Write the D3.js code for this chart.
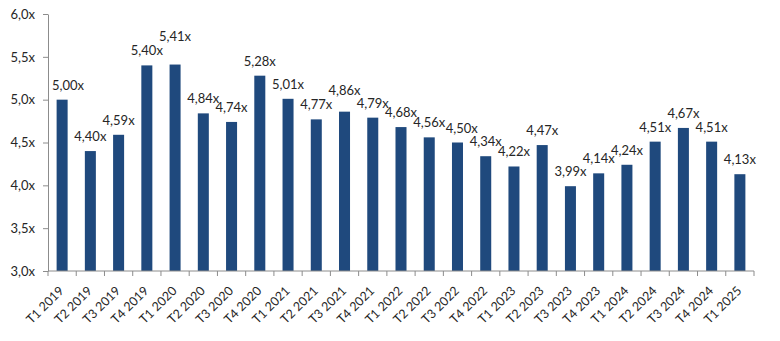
<!DOCTYPE html>
<html>
<head>
<meta charset="utf-8">
<script src="https://cdn.jsdelivr.net/npm/d3@7"></script>
<style>
  html, body { margin: 0; padding: 0; background: #ffffff; }
  svg { display: block; }
  text { font-family: Lato, "Open Sans", sans-serif; fill: #262626; }
</style>
</head>
<body>
<svg id="chart" width="780" height="341"></svg>
<script>
const categories = ["T1 2019","T2 2019","T3 2019","T4 2019","T1 2020","T2 2020","T3 2020","T4 2020",
  "T1 2021","T2 2021","T3 2021","T4 2021","T1 2022","T2 2022","T3 2022","T4 2022",
  "T1 2023","T2 2023","T3 2023","T4 2023","T1 2024","T2 2024","T3 2024","T4 2024","T1 2025"];
const values = [5.00,4.40,4.59,5.40,5.41,4.84,4.74,5.28,5.01,4.77,4.86,4.79,4.68,4.56,4.50,4.34,
  4.22,4.47,3.99,4.14,4.24,4.51,4.67,4.51,4.13];
const yTicks = [3.0,3.5,4.0,4.5,5.0,5.5,6.0];
const yTickLabels = ["3,0x","3,5x","4,0x","4,5x","5,0x","5,5x","6,0x"];

const fmtLabel = v => v.toFixed(2).replace(".", ",") + "x";

const margin = {left: 48, right: 26, top: 14, bottom: 70};
const W = 780, H = 341;
const svg = d3.select("#chart");

const x = d3.scaleBand().domain(categories)
  .range([margin.left, W - margin.right])
  .paddingInner(0.61).paddingOuter(0.305);
const y = d3.scaleLinear().domain([3, 6]).range([H - margin.bottom, margin.top]);

const axisColor = "#8c8c8c";
const barColor = "#1f497d";

// Bars
svg.append("g").selectAll("rect").data(values).join("rect")
  .attr("x", (d, i) => x(categories[i]))
  .attr("y", d => y(d))
  .attr("width", x.bandwidth())
  .attr("height", d => y(3) - y(d))
  .attr("fill", barColor);

// Y axis
const yAxis = svg.append("g")
  .attr("transform", `translate(${margin.left},0)`)
  .call(d3.axisLeft(y).tickValues(yTicks).tickFormat((d, i) => yTickLabels[i])
    .tickSize(5).tickSizeOuter(0).tickPadding(8));
yAxis.selectAll("path, line").attr("stroke", axisColor);
yAxis.selectAll("text").style("font-size", "13px").style("font-family", "Lato, sans-serif").attr("fill", "#262626");

// X axis: baseline + ticks at band boundaries
const step = x.step();
const xg = svg.append("g");
xg.append("line")
  .attr("x1", margin.left).attr("x2", W - margin.right)
  .attr("y1", y(3)).attr("y2", y(3))
  .attr("stroke", axisColor);
const boundaries = categories.map(c => x(c) + x.bandwidth() / 2 - step / 2)
  .concat([x(categories[categories.length - 1]) + x.bandwidth() / 2 + step / 2]);
xg.selectAll("line.tick").data(boundaries).join("line")
  .attr("class", "tick")
  .attr("x1", d => d).attr("x2", d => d)
  .attr("y1", y(3)).attr("y2", y(3) + 5)
  .attr("stroke", axisColor);
xg.selectAll("text").data(categories).join("text")
  .attr("transform", d => `translate(${x(d) + x.bandwidth() / 2 + 2.5},${y(3) + 20.5}) rotate(-45)`)
  .attr("text-anchor", "end")
  .style("font-size", "12.5px")
  .text(d => d);

// Value labels with simple collision handling
const lg = svg.append("g");
const labels = values.map((v, i) => {
  const t = lg.append("text")
    .attr("text-anchor", "middle")
    .style("font-size", "13px")
    .text(fmtLabel(v));
  return {t, v, cx: x(categories[i]) + x.bandwidth() / 2, base: y(v) - 10, w: t.node().getComputedTextLength()};
});
const capH = 9.5;
labels.forEach((L, i) => {
  // keep clear of the y axis
  if (L.cx - L.w / 2 < margin.left + 4) L.cx = margin.left + 4 + L.w / 2;
  if (i > 0) {
    const P = labels[i - 1];
    const hOv = (P.cx + P.w / 2) - (L.cx - L.w / 2);
    const vOv = Math.min(P.base, L.base) - Math.max(P.base - capH, L.base - capH);
    if (hOv > 0 && vOv > 1) {
      if (L.v >= P.v) L.base = P.base - (capH + 4.5);
      else L.cx += hOv + 0.5;
    }
  }
  L.t.attr("x", L.cx).attr("y", L.base);
});
</script>
</body>
</html>
